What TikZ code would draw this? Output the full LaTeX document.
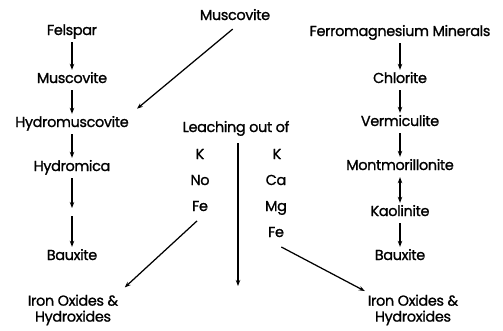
\documentclass[tikz,border=0pt]{standalone}
\usepackage{fontspec}
\setmainfont{Poppins}
\newfontfamily\demi{Poppins}[FakeBold=1.1,LetterSpace=-2.5]
\usetikzlibrary{arrows.meta}
\begin{document}
\begin{tikzpicture}[x=1bp,y=-1bp,
  lbl/.style={font=\demi\fontsize{14.5}{13}\selectfont, inner xsep=2pt, inner ysep=5.5pt, text height=7.5bp, text depth=1.5bp, align=center},
  lbl2/.style={font=\demi\fontsize{14.5}{16}\selectfont, inner xsep=2pt, inner ysep=3pt, align=center},
  arr/.style={line width=1.25pt, -{Stealth[length=6pt,width=4.5pt]}},
  darr/.style={line width=1.25pt, {Stealth[length=6pt,width=4.5pt]}-{Stealth[length=6pt,width=4.5pt]}}]
\useasboundingbox (0,0) rectangle (503,330);
% left column
\node[lbl] (fel) at (72,32) {Felspar};
\node[lbl] (musL) at (72,80) {Muscovite};
\node[lbl] (hmus) at (72,124) {Hydromuscovite};
\node[lbl] (hmic) at (72,168) {Hydromica};
\node[lbl] (bauL) at (72,257) {Bauxite};
\node[lbl2] (ironL) at (73,310) {Iron Oxides \&\\Hydroxides};
\coordinate (m1) at (72,208);
\coordinate (m2) at (72,216);
\draw[arr] (fel) -- (musL);
\draw[arr] (musL) -- (hmus);
\draw[arr] (hmus) -- (hmic);
\draw[arr] (hmic) -- (m1);
\draw[arr] (m2) -- (bauL);
% right column
\node[lbl] (ferro) at (400,33) {Ferromagnesium Minerals};
\node[lbl] (chl) at (400,80) {Chlorite};
\node[lbl] (ver) at (400,123) {Vermiculite};
\node[lbl] (mont) at (400,167) {Montmorillonite};
\node[lbl] (kao) at (400,213) {Kaolinite};
\node[lbl] (bauR) at (400,257) {Bauxite};
\node[lbl2] (ironR) at (413,310) {Iron Oxides \&\\Hydroxides};
\draw[arr] (ferro) -- (chl);
\draw[arr] (chl) -- (ver);
\draw[arr] (ver) -- (mont);
\draw[darr] (mont) -- (kao);
\draw[arr] (kao) -- (bauR);
% top muscovite
\node[lbl] (musT) at (235,17) {Muscovite};
\draw[arr, shorten <=3pt, shorten >=8pt] (musT.south) -- (hmus.north east);
% leaching
\node[lbl] (leach) at (236,129) {Leaching out of};
\node[lbl] (k1) at (200,156) {K};
\node[lbl] (na) at (200,182) {No};
\node[lbl] (fe1) at (200,208) {Fe};
\node[lbl] (k2) at (277,156) {K};
\node[lbl] (ca) at (276,182) {Ca};
\node[lbl] (mg) at (276,208) {Mg};
\node[lbl] (fe2) at (276,234) {Fe};
\coordinate (vtop) at (238,143);
\coordinate (vend) at (238,286);
\draw[arr] (vtop) -- (vend);
\draw[arr, shorten <=4pt, shorten >=6pt] (fe1.south) -- (ironL.north east);
\draw[arr, shorten <=6pt, shorten >=1pt] (fe2.south) -- (ironR.north west);
\end{tikzpicture}
\end{document}
